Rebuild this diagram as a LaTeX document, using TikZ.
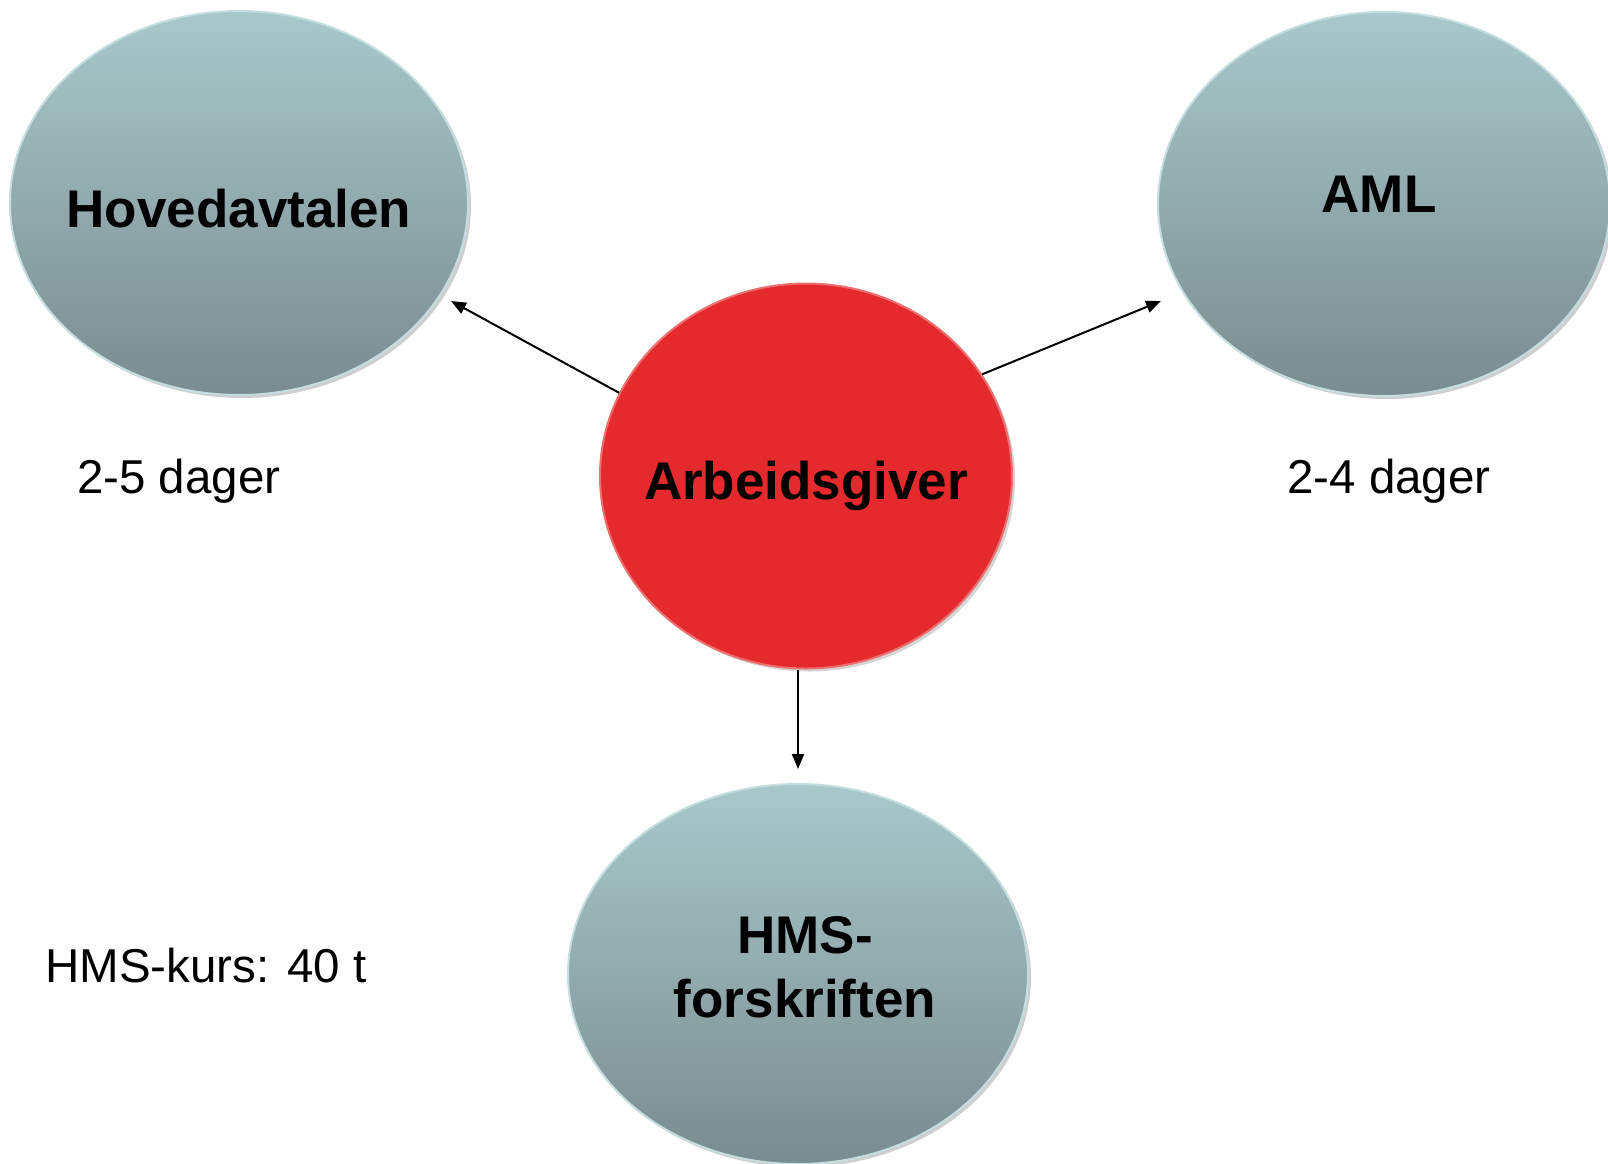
\documentclass[tikz,border=0pt]{standalone}
\usepackage{fontspec}
\setmainfont{Liberation Sans}
\usetikzlibrary{shapes.geometric,arrows.meta,shadows}

\definecolor{tealtop}{RGB}{168,200,203}
\definecolor{tealbot}{RGB}{122,140,143}
\definecolor{tealrim}{RGB}{196,222,224}
\definecolor{redfill}{RGB}{228,42,44}
\definecolor{redrim}{RGB}{236,112,112}

\begin{document}
\begin{tikzpicture}[x=1pt,y=-1pt,
  bigtext/.style={inner sep=0pt, font=\bfseries\fontsize{53}{64}\selectfont, align=center},
  topic/.style={ellipse, inner sep=0pt, top color=tealtop, bottom color=tealbot,
    draw=tealrim, line width=2pt,
    drop shadow={shadow xshift=3pt, shadow yshift=-3pt, opacity=0.35, fill=black!55}},
  centre/.style={ellipse, inner sep=0pt, fill=redfill, draw=redrim, line width=2pt,
    drop shadow={shadow xshift=3pt, shadow yshift=-3pt, opacity=0.3, fill=black!55}},
  note/.style={inner sep=0pt, anchor=base west, font=\fontsize{47.5}{57}\selectfont},
  arr/.style={-{Triangle[length=15pt,width=12pt]}, line width=2pt, black}]

\useasboundingbox (0,0) rectangle (1608,1163);

% the three topics and the employer in the middle
\node[topic, minimum width=458pt, minimum height=384pt,
      label={[bigtext, text height=48pt, text depth=0pt]center:Hovedavtalen}]
      (hov) at (239,203) {};
\node[topic, minimum width=452pt, minimum height=384pt,
      label={[bigtext, text height=38pt, text depth=22pt, xshift=-5pt]center:AML}]
      (aml) at (1384,204) {};
\node[topic, minimum width=460pt, minimum height=380pt,
      label={[bigtext, xshift=7pt, yshift=7pt]center:HMS-\\forskriften}]
      (hms) at (798,974) {};
\node[centre, minimum width=412pt, minimum height=385pt,
      label={[bigtext, text height=46pt, text depth=0pt]center:Arbeidsgiver}]
      (arb) at (806,476) {};

% course lengths
\node[note] (d25) at (77,493) {2-5 dager};
\node[note] (d24) at (1287,493) {2-4 dager};
\node[note] (kurs) at (45,982) {HMS-kurs: 40 t};

% arrow tips, just short of each topic
\coordinate (tipH) at (451,301);
\coordinate (tipA) at (1161,301);
\coordinate (tipB) at (798,769);

\draw[arr] (arb.156) -- (tipH);
\draw[arr] (arb.30) -- (tipA);
\draw[arr] (arb.south -| tipB) -- (tipB);

\end{tikzpicture}
\end{document}
